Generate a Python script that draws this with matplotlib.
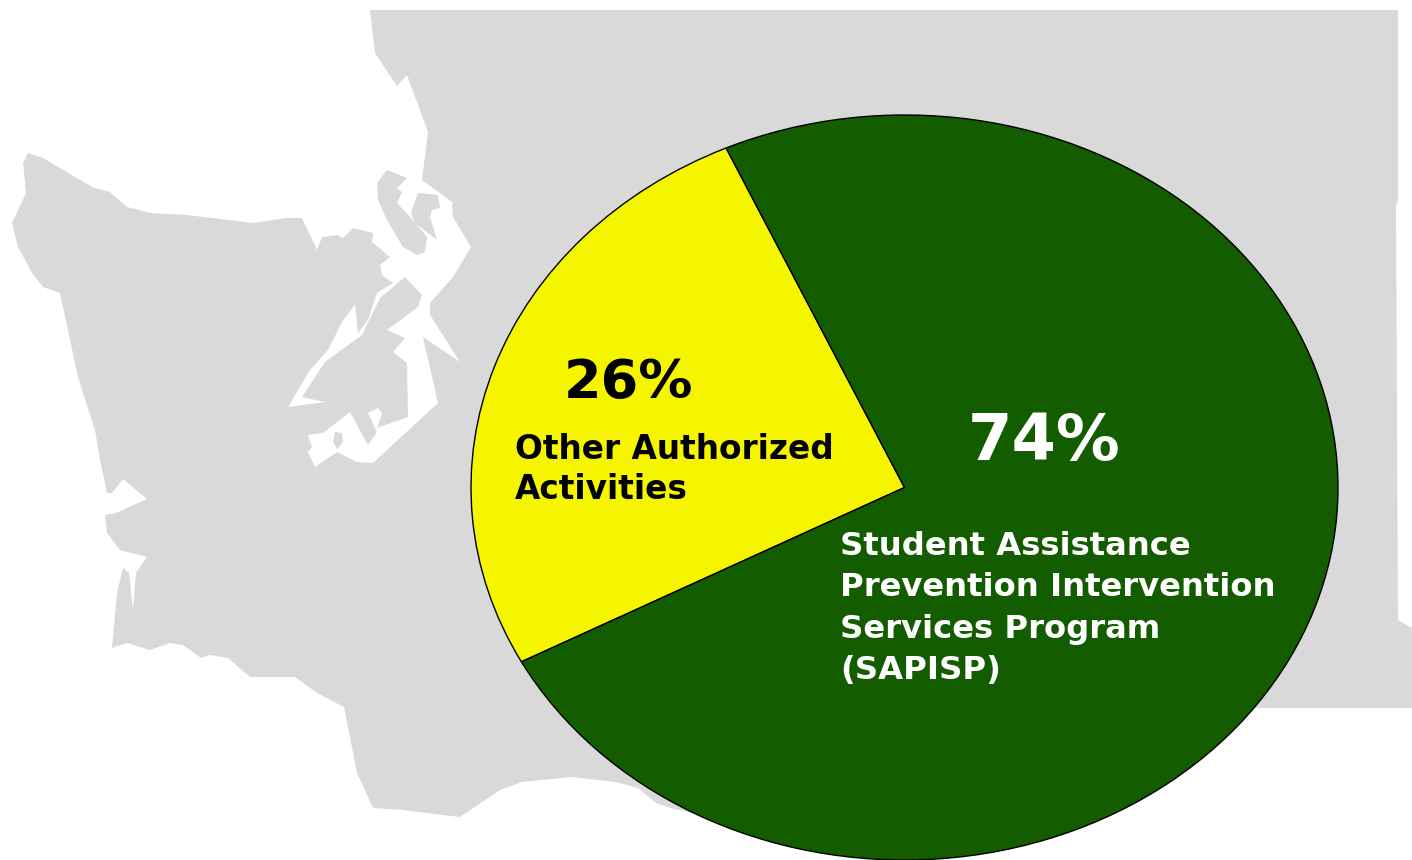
import matplotlib
matplotlib.use("Agg")
import matplotlib.pyplot as plt
from matplotlib.patches import Polygon

# pie values
shares = [26, 74]
pie_colors = ["#f5f500", "#145c00"]
pct_labels = ["26%", "74%"]
other_lines = ["Other Authorized", "Activities"]
sapisp_lines = ["Student Assistance", "Prevention Intervention", "Services Program", "(SAPISP)"]

# state outline behind the pie, traced in image pixels
state_outline = [
    (370, 10), (1398, 10), (1398, 200), (1396, 205), (1398, 620), (1412, 628), (1412, 708), (1200, 708),
    (900, 860), (670, 808), (656, 803), (638, 788), (616, 782), (571, 777), (522, 782), (500, 790), (460, 817),
    (402, 810), (373, 808), (357, 773), (344, 707), (317, 693), (295, 677), (250, 677), (228, 658),
    (210, 655), (201, 658), (183, 645), (170, 643), (150, 650), (127, 643), (112, 648), (117, 593),
    (123, 568), (129, 573), (133, 610), (136, 573), (147, 557), (120, 550), (107, 533), (105, 515),
    (116, 513), (147, 499), (123, 479), (112, 493), (107, 493), (100, 460), (95, 430), (78, 377),
    (68, 330), (60, 293), (43, 287), (32, 273), (18, 247), (12, 223), (26, 193), (23, 163), (28, 153),
    (43, 158), (92, 187), (110, 192), (127, 207), (150, 213), (187, 215), (253, 223), (287, 218),
    (302, 218), (317, 250), (322, 237), (337, 235), (343, 238), (353, 228), (373, 233), (372, 242),
    (390, 257), (380, 265), (382, 275), (393, 283), (377, 293), (368, 320), (358, 333), (355, 305),
    (343, 320), (328, 350), (310, 370), (288, 407), (325, 402), (302, 397), (325, 362), (362, 335),
    (380, 298), (405, 277), (422, 295), (418, 307), (387, 330), (405, 338), (393, 352), (407, 363),
    (408, 417), (377, 428), (382, 413), (378, 408), (368, 413), (377, 432), (368, 445), (350, 412),
    (323, 433), (308, 435), (312, 447), (308, 452), (315, 467), (337, 452), (357, 462), (373, 463),
    (438, 403), (423, 337), (460, 362), (430, 315), (430, 303), (453, 277), (471, 247), (453, 217),
    (452, 202), (422, 180), (428, 132), (407, 75), (397, 86), (375, 53),
]
whidbey = [(387, 170), (407, 178), (397, 188), (402, 192), (397, 203), (413, 220), (427, 237), (425, 252),
           (417, 255), (403, 247), (387, 220), (378, 200), (377, 183)]
camano = [(418, 193), (438, 195), (440, 208), (432, 210), (430, 217), (437, 240), (415, 223), (411, 213)]
islet = [(335, 432), (342, 433), (343, 442), (337, 449), (333, 442)]

fig = plt.figure(figsize=(14.12, 8.6), dpi=100)

# background map, axes in pixel units
ax_map = fig.add_axes([0, 0, 1, 1])
ax_map.set_xlim(0, 1412)
ax_map.set_ylim(860, 0)
ax_map.axis("off")
for shape in [state_outline, whidbey, camano, islet]:
    ax_map.add_patch(Polygon(shape, closed=True, facecolor="#d9d9d9", edgecolor="none"))

# pie is stretched, so it gets its own axes and no equal aspect
ax_pie = fig.add_axes([471 / 1412, 0, 867 / 1412, 745 / 860])
ax_pie.pie(shares, colors=pie_colors, startangle=114.3, counterclock=True, radius=1,
           wedgeprops={"edgecolor": "black", "linewidth": 1})
ax_pie.set_aspect("auto")
ax_pie.set_xlim(-1, 1)
ax_pie.set_ylim(-1, 1)

# labels
px = ax_map.transData
ax_pie.text(564, 398, pct_labels[0], transform=px, fontsize=39, fontweight="bold", color="black", clip_on=False)
ax_pie.text(968, 460, pct_labels[1], transform=px, fontsize=46, fontweight="bold", color="white", clip_on=False)
for line, y in zip(other_lines, [459, 499]):
    ax_pie.text(515, y, line, transform=px, fontsize=23.6, fontweight="bold", color="black", clip_on=False)
for line, y in zip(sapisp_lines, [555, 596, 638, 679]):
    ax_pie.text(840, y, line, transform=px, fontsize=23.2, fontweight="bold", color="white", clip_on=False)

plt.savefig("out.png", dpi=100)
